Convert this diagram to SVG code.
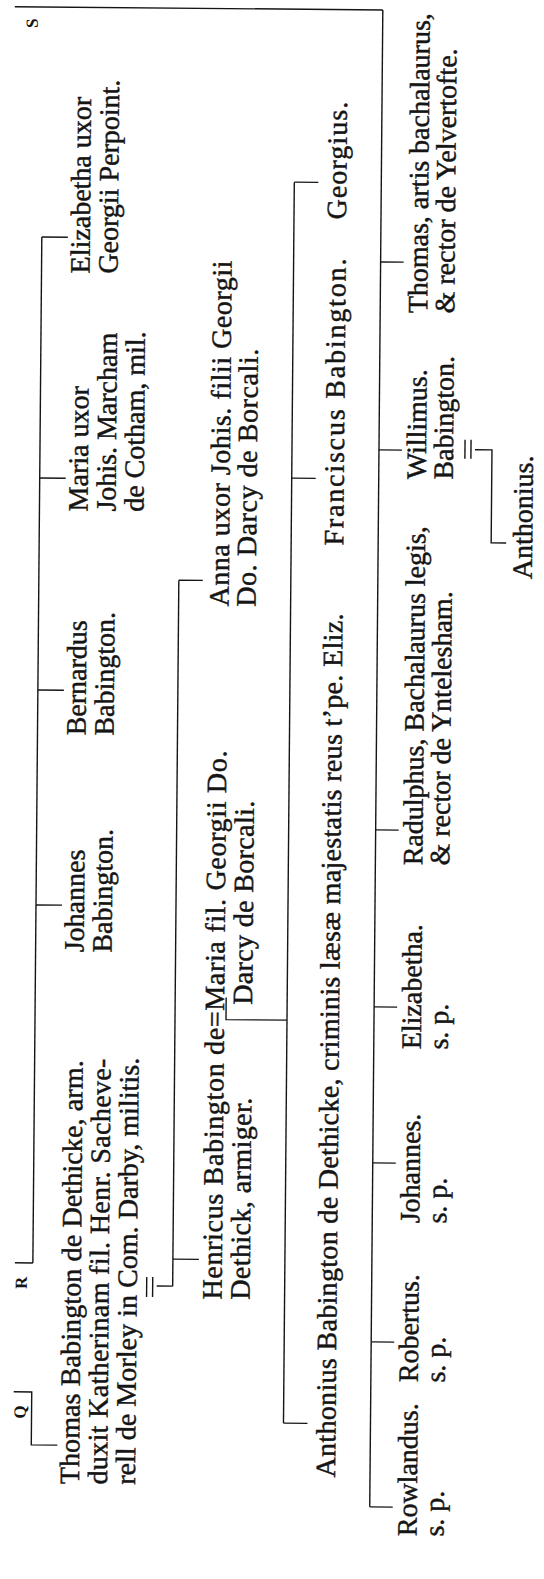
<svg xmlns="http://www.w3.org/2000/svg" width="544" height="1579" viewBox="0 0 544 1579">
<style>
.t{font-family:"Liberation Serif","Times New Roman",serif;font-size:28px;fill:#151515;stroke:#151515;stroke-width:0.45}
.m{font-family:"Liberation Serif","Times New Roman",serif;font-size:17px;font-weight:bold;fill:#151515}
.c line,.c polyline{stroke:#151515;stroke-width:1.4;fill:none}
</style>
<rect width="544" height="1579" fill="#fff"/>
<g transform="rotate(0.5 272 790)">
<g id="connectors" class="c">
<line x1="8" y1="9" x2="376" y2="9"/>
<line x1="37" y1="239" x2="37" y2="1265"/>
<line x1="19" y1="1265" x2="37" y2="1265"/>
<line x1="37" y1="239" x2="63" y2="239"/>
<line x1="37" y1="480" x2="63" y2="480"/>
<line x1="37" y1="692" x2="63" y2="692"/>
<line x1="37" y1="907" x2="63" y2="907"/>
<polyline points="19,1394 37,1394 37,1447 63,1447"/>
<line x1="151" y1="1278" x2="151" y2="1298"/>
<line x1="157" y1="1278" x2="157" y2="1298"/>
<line x1="161" y1="1287" x2="177" y2="1287"/>
<line x1="177" y1="581" x2="177" y2="1287"/>
<line x1="177" y1="581" x2="201" y2="581"/>
<line x1="177" y1="1260" x2="203" y2="1260"/>
<polyline points="228,998 228,1020 289,1020"/>
<line x1="289" y1="182" x2="289" y2="1423"/>
<line x1="289" y1="182" x2="313" y2="182"/>
<line x1="289" y1="478" x2="313" y2="478"/>
<line x1="289" y1="1423" x2="313" y2="1423"/>
<line x1="376" y1="9" x2="376" y2="1506"/>
<line x1="376" y1="261" x2="399" y2="261"/>
<line x1="376" y1="449" x2="399" y2="449"/>
<line x1="376" y1="829" x2="399" y2="829"/>
<line x1="376" y1="1006" x2="399" y2="1006"/>
<line x1="376" y1="1162" x2="399" y2="1162"/>
<line x1="376" y1="1341" x2="399" y2="1341"/>
<line x1="376" y1="1506" x2="399" y2="1506"/>
<line x1="462" y1="438" x2="462" y2="457"/>
<line x1="468" y1="438" x2="468" y2="457"/>
<polyline points="472,448 489,448 489,541 504,541"/>
</g>
<g id="marker-s" transform="translate(31 30) rotate(-90)"><text class="m">S</text></g>
<g id="marker-q" transform="translate(31 1421) rotate(-90)"><text class="m">Q</text></g>
<g id="marker-r" transform="translate(31 1291) rotate(-90)"><text class="m">R</text></g>
<g id="thomas" transform="translate(85 1486) rotate(-90)">
<text class="t" textLength="424" lengthAdjust="spacing">Thomas Babington de Dethicke, arm.</text>
<text class="t" y="28" textLength="426" lengthAdjust="spacing">duxit Katherinam fil. Henr. Sacheve-</text>
<text class="t" y="56" textLength="427" lengthAdjust="spacing">rell de Morley in Com. Darby, militis.</text>
</g>
<g id="johannes1" transform="translate(85 954) rotate(-90)">
<text class="t">Johannes</text><text class="t" y="28">Babington.</text>
</g>
<g id="bernardus" transform="translate(85 737) rotate(-90)">
<text class="t">Bernardus</text><text class="t" y="28">Babington.</text>
</g>
<g id="maria" transform="translate(85 513) rotate(-90)">
<text class="t">Maria uxor</text><text class="t" y="28">Johis. Marcham</text><text class="t" y="56">de Cotham, mil.</text>
</g>
<g id="elizabetha1" transform="translate(85 275) rotate(-90)">
<text class="t">Elizabetha uxor</text><text class="t" y="28">Georgii Perpoint.</text>
</g>
<g id="henricus" transform="translate(226 1300) rotate(-90)">
<text class="t" textLength="549" lengthAdjust="spacing">Henricus Babington de=Maria fil. Georgii Do.</text>
<text class="t" y="28" textLength="202" lengthAdjust="spacing">Dethick, armiger.</text>
<text class="t" x="295" y="28" textLength="204" lengthAdjust="spacing">Darcy de Borcali.</text>
</g>
<g id="anna" transform="translate(227 607) rotate(-90)">
<text class="t" textLength="346" lengthAdjust="spacing">Anna uxor Johis. filii Georgii</text><text class="t" y="27" textLength="258" lengthAdjust="spacing">Do. Darcy de Borcali.</text>
</g>
<g id="anthonius1" transform="translate(341 1477) rotate(-90)">
<text class="t" textLength="864" lengthAdjust="spacing">Anthonius Babington de Dethicke, criminis læsæ majestatis reus t’pe. Eliz.</text>
</g>
<g id="franciscus" transform="translate(341 545) rotate(-90)"><text class="t" textLength="287" lengthAdjust="spacing">Franciscus Babington.</text></g>
<g id="georgius" transform="translate(341 219) rotate(-90)"><text class="t" textLength="118" lengthAdjust="spacing">Georgius.</text></g>
<g id="rowlandus" transform="translate(423 1535) rotate(-90)"><text class="t">Rowlandus.</text><text class="t" y="27">s. p.</text></g>
<g id="robertus" transform="translate(423 1381) rotate(-90)"><text class="t">Robertus.</text><text class="t" y="27">s. p.</text></g>
<g id="johannes2" transform="translate(423 1222) rotate(-90)"><text class="t">Johannes.</text><text class="t" y="27">s. p.</text></g>
<g id="elizabetha2" transform="translate(423 1048) rotate(-90)"><text class="t">Elizabetha.</text><text class="t" y="27">s. p.</text></g>
<g id="radulphus" transform="translate(423 864) rotate(-90)"><text class="t">Radulphus, Bachalaurus legis,</text><text class="t" y="27">&amp; rector de Yntelesham.</text></g>
<g id="willimus" transform="translate(423 478) rotate(-90)"><text class="t">Willimus.</text><text class="t" y="27">Babington.</text></g>
<g id="thomas2" transform="translate(423 312) rotate(-90)"><text class="t">Thomas, artis bachalaurus,</text><text class="t" y="27">&amp; rector de Yelvertofte.</text></g>
<g id="anthonius2" transform="translate(530 577) rotate(-90)"><text class="t">Anthonius.</text></g>
</g>
</svg>
